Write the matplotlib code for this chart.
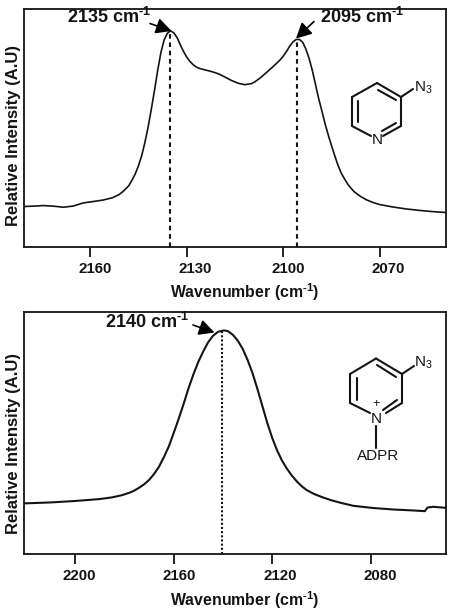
#!/usr/bin/python3
import matplotlib
matplotlib.use('Agg')
import matplotlib.pyplot as plt
from matplotlib.lines import Line2D
from matplotlib.patches import FancyArrowPatch
from matplotlib.transforms import ScaledTranslation

plt.rcParams['font.family'] = ['Liberation Sans', 'DejaVu Sans']
plt.rcParams['mathtext.fontset'] = 'custom'
plt.rcParams['mathtext.rm'] = 'Liberation Sans:bold'
plt.rcParams['mathtext.bf'] = 'Liberation Sans:bold'
plt.rcParams['mathtext.sf'] = 'Liberation Sans'

WIDTH = 454
HEIGHT = 616
INK = '#141414'

# Free azide spectrum
topWavenumber = [2180.5, 2177, 2174.5, 2171, 2168.3, 2165.2, 2162.1, 2159, 2156, 2153,
                 2151, 2149.7, 2148, 2147, 2146, 2145, 2144, 2143, 2142, 2141,
                 2140, 2139, 2138, 2137, 2136, 2135, 2134, 2133, 2132, 2131,
                 2130, 2129, 2128, 2127, 2126, 2124, 2122, 2120, 2118, 2116,
                 2114, 2112, 2110, 2108.8, 2107, 2105, 2103, 2101, 2100, 2099,
                 2098, 2097, 2096, 2095, 2094, 2093, 2092, 2091, 2090, 2089,
                 2088, 2087, 2086, 2085, 2084, 2083, 2082, 2081, 2080, 2079,
                 2078, 2076, 2074, 2072, 2070, 2066, 2062, 2058, 2054, 2049.7]
topIntensity = [16.8, 17.0, 17.2, 16.9, 16.5, 17.0, 18.3, 18.9, 19.5, 20.5,
                21.8, 23.2, 25.5, 27.8, 30.4, 33.8, 38.0, 43.5, 50.0, 57.5,
                65.5, 74.0, 81.5, 86.8, 89.6, 90.6, 89.8, 87.8, 84.8, 82.0,
                79.6, 77.8, 76.4, 75.4, 74.8, 74.1, 73.4, 72.5, 71.1, 69.7,
                68.6, 68.0, 68.4, 69.2, 71.0, 73.4, 75.8, 78.4, 80.0, 82.0,
                84.2, 86.0, 87.0, 87.0, 85.8, 83.0, 79.0, 74.0, 68.0, 62.0,
                56.8, 51.4, 46.6, 42.2, 38.0, 34.0, 30.8, 28.4, 26.2, 24.5,
                23.0, 21.0, 19.5, 18.4, 17.6, 16.6, 15.8, 15.2, 14.7, 14.3]
topTicks = [2160, 2130, 2100, 2070]
topPeaks = [2135, 2095]
topPeakLineX = [2135.2, 2095.9]
topPeakLineY = [90.5, 87.1]

# ADPR bound spectrum
bottomWavenumber = [2220.9, 2210, 2200, 2190, 2185, 2181, 2178, 2176, 2174, 2172,
                    2170, 2168, 2166, 2164, 2162, 2160, 2158, 2156, 2154, 2152,
                    2150, 2148, 2146, 2144, 2142, 2140, 2139.6, 2138, 2136, 2134,
                    2132, 2130, 2128, 2126, 2124, 2122, 2120, 2118, 2116, 2114,
                    2112, 2110, 2108, 2106, 2103, 2100, 2096, 2092, 2087, 2079,
                    2071, 2063, 2058, 2056.9, 2054.6, 2049.7]
bottomIntensity = [20.7, 21.1, 21.7, 22.5, 23.2, 24.1, 25.1, 26.0, 27.2, 28.6,
                   30.4, 32.8, 35.8, 39.8, 44.2, 49.8, 55.6, 61.7, 68.2, 74.0,
                   79.2, 83.5, 87.3, 90.0, 91.6, 92.1, 92.2, 91.9, 90.4, 88.0,
                   84.6, 80.0, 74.6, 68.0, 61.0, 54.0, 47.8, 42.6, 38.4, 35.0,
                   32.2, 29.8, 27.8, 26.2, 24.6, 23.4, 22.0, 20.9, 19.7, 18.8,
                   18.2, 17.8, 17.5, 19.0, 19.3, 18.9]
bottomTicks = [2200, 2160, 2120, 2080]
bottomPeakLineX = [2140.5]
bottomPeakLineY = [92.0]

fig = plt.figure(figsize=(WIDTH / 100, HEIGHT / 100), dpi=100)


def addAxes(left, top, right, bottom):
    """Axes placed by pixel box, y counted from the top of the picture"""
    return fig.add_axes([left / WIDTH, 1 - bottom / HEIGHT,
                         (right - left) / WIDTH, (bottom - top) / HEIGHT])


def pixelText(x, y, text, size, weight='bold', rotation=0):
    fig.text(x / WIDTH, 1 - y / HEIGHT, text, fontsize=size, fontweight=weight, color=INK,
             ha='center', va='center', rotation=rotation)


def pixelLine(x0, y0, x1, y1, lw=1.5):
    fig.add_artist(Line2D([x0 / WIDTH, x1 / WIDTH], [1 - y0 / HEIGHT, 1 - y1 / HEIGHT],
                          transform=fig.transFigure, color=INK, lw=lw, solid_capstyle='round'))


def pixelArrow(x0, y0, x1, y1):
    fig.add_artist(FancyArrowPatch(
        (x0 / WIDTH, 1 - y0 / HEIGHT), (x1 / WIDTH, 1 - y1 / HEIGHT),
        transform=fig.transFigure, arrowstyle='-|>,head_length=0.62,head_width=0.32',
        mutation_scale=15, color='black', lw=1.2, shrinkA=0, shrinkB=0))


def stylePanel(ax, xlim, ticks, labelShift, labelY, ylabelY):
    ax.set_xlim(*xlim)
    ax.set_ylim(0, 100)
    ax.set_yticks([])
    ax.set_xticks(ticks)
    ax.tick_params(axis='x', length=7, width=1.3, color=INK, pad=4)
    # the labels sit a little right of their ticks in the original
    for tick, shift in zip(ax.get_xticklabels(), labelShift):
        tick.set_fontsize(10.8)
        tick.set_fontweight('bold')
        tick.set_color(INK)
        tick.set_transform(tick.get_transform() + ScaledTranslation(shift / 100, 0, fig.dpi_scale_trans))
    for spine in ax.spines.values():
        spine.set_linewidth(1.3)
        spine.set_color(INK)
    pixelText(245, labelY, r'Wavenumber (cm$^{\text{-1}}$)', 11.4)
    pixelText(14, ylabelY, 'Relative Intensity (A.U)', 12, rotation=90)


# Top panel
axTop = addAxes(24, 8.5, 446, 246.5)
stylePanel(axTop, (2180.5, 2049.5), topTicks, [5, 9, 5, 8], 292, 136)
axTop.plot(topWavenumber, topIntensity, color=INK, lw=1.2)
for x, y in zip(topPeakLineX, topPeakLineY):
    axTop.plot([x, x], [0, y], color=INK, lw=1.5, ls=(0, (2.2, 1.8)))

pixelText(109, 17, r'%d cm$^{\text{-1}}$' % topPeaks[0], 13)
pixelText(362, 17, r'%d cm$^{\text{-1}}$' % topPeaks[1], 13)
pixelArrow(150, 23.5, 171.5, 31)
pixelArrow(314, 21.5, 296, 38.5)

# Pyridine ring, top panel
pixelLine(352, 97, 377, 83)
pixelLine(377, 83, 401, 97)
pixelLine(401, 97, 401, 126)
pixelLine(401, 126, 383, 136)
pixelLine(371, 136, 352, 126)
pixelLine(352, 126, 352, 97)
pixelLine(358, 101, 358, 122)
pixelLine(378, 90, 396, 100)
pixelLine(396, 123, 382, 131)
pixelLine(401, 97, 413, 89)
pixelText(377, 140, 'N', 11, weight='normal')
pixelText(423, 88, r'N$_{\mathsf{3}}$', 11, weight='normal')

# Bottom panel
axBottom = addAxes(24, 311.5, 446, 553.5)
stylePanel(axBottom, (2220.8, 2049.4), bottomTicks, [4, 5, 8, 10], 600.5, 443)
axBottom.plot(bottomWavenumber, bottomIntensity, color=INK, lw=1.5)
axBottom.plot([bottomPeakLineX[0]] * 2, [0, bottomPeakLineY[0]], color=INK, lw=1.5, ls=(0, (1, 1)))

pixelText(147, 322, r'2140 cm$^{\text{-1}}$', 13)
pixelArrow(193, 325, 214.5, 332.5)

# Pyridinium ring, bottom panel
pixelLine(350, 374, 376, 358.5)
pixelLine(376, 358.5, 402, 374)
pixelLine(402, 374, 402, 403)
pixelLine(402, 403, 386, 413)
pixelLine(370, 413, 350, 403)
pixelLine(350, 403, 350, 374)
pixelLine(356.5, 378, 356.5, 400)
pixelLine(377, 365, 396, 377)
pixelLine(397, 400, 383, 410)
pixelLine(402, 374, 414, 366)
pixelLine(376, 426, 376, 448)
pixelText(376, 419, 'N', 11, weight='normal')
pixelText(376, 404, '+', 9, weight='normal')
pixelText(423, 363, r'N$_{\mathsf{3}}$', 11, weight='normal')
pixelText(378, 455.5, 'ADPR', 11, weight='normal')

fig.savefig('out.png', dpi=100)
